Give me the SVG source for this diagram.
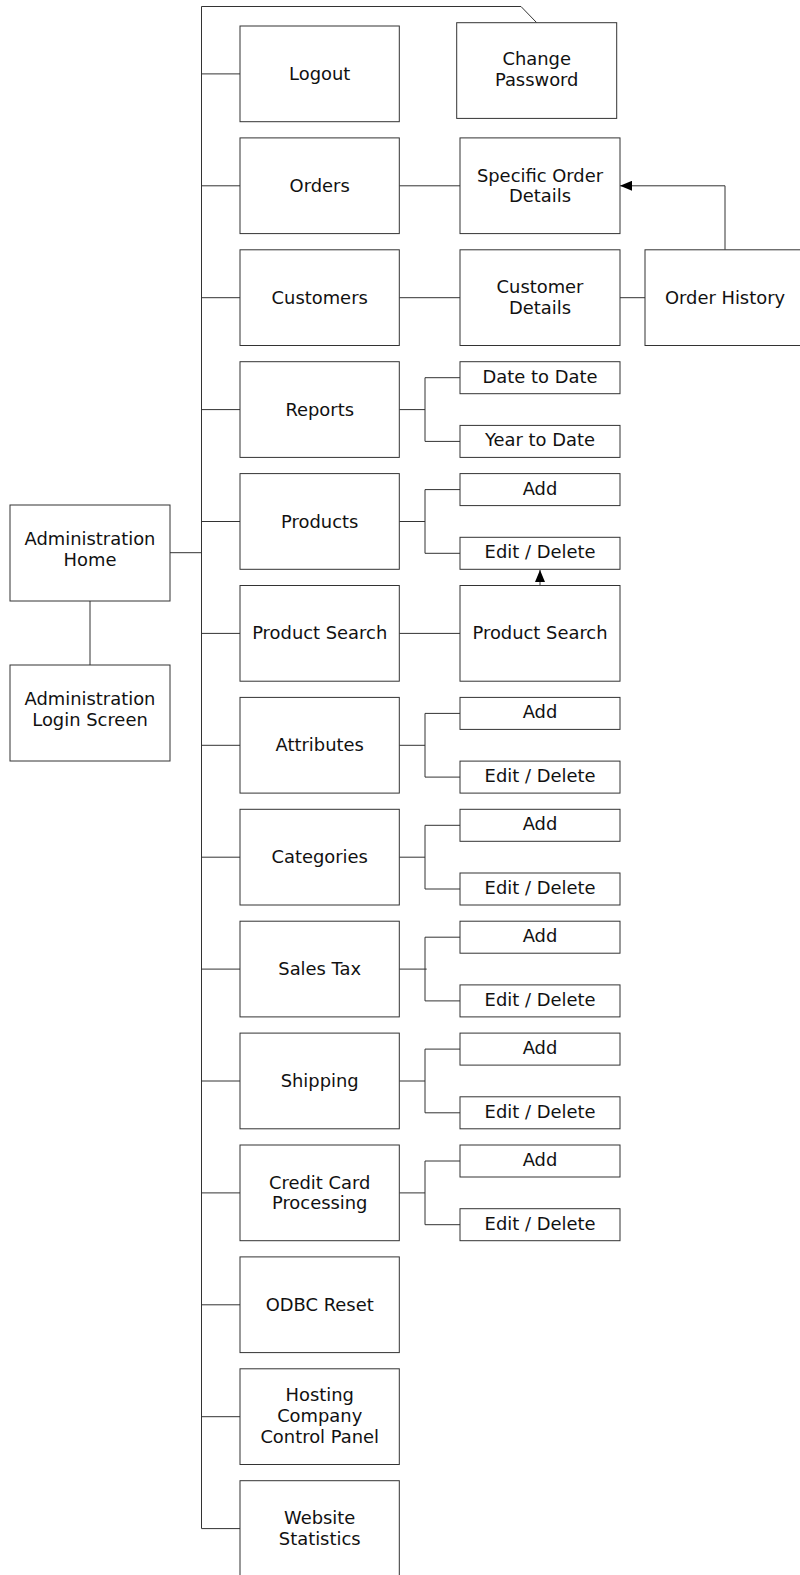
<svg xmlns="http://www.w3.org/2000/svg" width="800" height="1575" viewBox="0 0 800 1575">
<style>
.b{fill:#fff;stroke:#333;stroke-width:1}
.c{fill:none;stroke:#333;stroke-width:1}
text{font-family:"DejaVu Sans","Verdana",sans-serif;font-size:17.9px;fill:#111;text-anchor:middle}
</style>
<defs>
<marker id="ah" markerWidth="12" markerHeight="10" refX="12" refY="5" orient="auto" markerUnits="userSpaceOnUse">
<path d="M0,0 L12,5 L0,10 Z" fill="#000"/>
</marker>
</defs>
<rect width="800" height="1575" fill="#fff"/>
<g id="connectors">
<path class="c" d="M201.5,1528.5 V6.5 H521 L536.7,22.7"/>
<path class="c" d="M170,552.7 H201.5 M90,601 V665"/>
<path class="c" d="M201.5,73.9 H240 M201.5,185.8 H240 M201.5,297.7 H240 M201.5,409.6 H240 M201.5,521.5 H240 M201.5,633.4 H240 M201.5,745.3 H240 M201.5,857.2 H240 M201.5,969.1 H240 M201.5,1081 H240 M201.5,1192.9 H240 M201.5,1304.8 H240 M201.5,1416.7 H240 M201.5,1528.6 H240"/>
<path class="c" d="M399.3,185.8 H460 M399.3,297.7 H460 M620,297.7 H645 M399.3,633.4 H460"/>
<path class="c" d="M725,249.8 V185.8 H620" marker-end="url(#ah)"/>
<path class="c" d="M540,585.5 V570" marker-end="url(#ah)"/>
<path class="c" d="M399.3,409.6 H425 M425,377.7 V441.4 M425,377.7 H460 M425,441.4 H460"/>
<path class="c" d="M399.3,521.5 H425 M425,489.6 V553.3 M425,489.6 H460 M425,553.3 H460"/>
<path class="c" d="M399.3,745.3 H425 M425,713.4 V777.1 M425,713.4 H460 M425,777.1 H460"/>
<path class="c" d="M399.3,857.2 H425 M425,825.3 V889 M425,825.3 H460 M425,889 H460"/>
<path class="c" d="M399.3,969.1 H426.7 M425,937.2 V1000.9 M425,937.2 H460 M425,1000.9 H460"/>
<path class="c" d="M399.3,1081 H425 M425,1049.1 V1112.8 M425,1049.1 H460 M425,1112.8 H460"/>
<path class="c" d="M399.3,1192.9 H425 M425,1161 V1224.7 M425,1161 H460 M425,1224.7 H460"/>
</g>
<g id="admin-home"><rect class="b" x="10" y="505" width="160" height="96"/><text x="90" y="545">Administration</text><text x="90" y="566">Home</text></g>
<g id="admin-login"><rect class="b" x="10" y="665" width="160" height="96"/><text x="90" y="705">Administration</text><text x="90" y="726">Login Screen</text></g>
<g id="logout"><rect class="b" x="240" y="26" width="159.3" height="95.7"/><text x="319.7" y="80">Logout</text></g>
<g id="change-password"><rect class="b" x="456.7" y="22.7" width="160" height="95.7"/><text x="536.7" y="65">Change</text><text x="536.7" y="86">Password</text></g>
<g id="orders"><rect class="b" x="240" y="137.9" width="159.3" height="95.7"/><text x="319.7" y="192">Orders</text></g>
<g id="specific-order"><rect class="b" x="460" y="137.9" width="160" height="95.7"/><text x="540" y="181.5">Specific Order</text><text x="540" y="202">Details</text></g>
<g id="customers"><rect class="b" x="240" y="249.8" width="159.3" height="95.7"/><text x="319.7" y="303.7">Customers</text></g>
<g id="customer-details"><rect class="b" x="460" y="249.8" width="160" height="95.7"/><text x="540" y="293.2">Customer</text><text x="540" y="313.8">Details</text></g>
<g id="order-history"><rect class="b" x="645" y="249.8" width="160" height="95.7"/><text x="725" y="303.7">Order History</text></g>
<g id="reports"><rect class="b" x="240" y="361.7" width="159.3" height="95.7"/><text x="319.7" y="415.6">Reports</text></g>
<g id="date-to-date"><rect class="b" x="460" y="361.7" width="160" height="32"/><text x="540" y="382.7">Date to Date</text></g>
<g id="year-to-date"><rect class="b" x="460" y="425.4" width="160" height="32"/><text x="540" y="446.4">Year to Date</text></g>
<g id="products"><rect class="b" x="240" y="473.6" width="159.3" height="95.7"/><text x="319.7" y="527.5">Products</text></g>
<g id="products-add"><rect class="b" x="460" y="473.6" width="160" height="32"/><text x="540" y="494.6">Add</text></g>
<g id="products-edit"><rect class="b" x="460" y="537.3" width="160" height="32"/><text x="540" y="558.3">Edit / Delete</text></g>
<g id="product-search"><rect class="b" x="240" y="585.5" width="159.3" height="95.7"/><text x="319.7" y="639.4">Product Search</text></g>
<g id="product-search-2"><rect class="b" x="460" y="585.5" width="160" height="95.7"/><text x="540" y="639.4">Product Search</text></g>
<g id="attributes"><rect class="b" x="240" y="697.4" width="159.3" height="95.7"/><text x="319.7" y="751.3">Attributes</text></g>
<g id="attributes-add"><rect class="b" x="460" y="697.4" width="160" height="32"/><text x="540" y="718.4">Add</text></g>
<g id="attributes-edit"><rect class="b" x="460" y="761.1" width="160" height="32"/><text x="540" y="782.1">Edit / Delete</text></g>
<g id="categories"><rect class="b" x="240" y="809.3" width="159.3" height="95.7"/><text x="319.7" y="863.2">Categories</text></g>
<g id="categories-add"><rect class="b" x="460" y="809.3" width="160" height="32"/><text x="540" y="830.3">Add</text></g>
<g id="categories-edit"><rect class="b" x="460" y="873" width="160" height="32"/><text x="540" y="894">Edit / Delete</text></g>
<g id="sales-tax"><rect class="b" x="240" y="921.2" width="159.3" height="95.7"/><text x="319.7" y="975.1">Sales Tax</text></g>
<g id="sales-tax-add"><rect class="b" x="460" y="921.2" width="160" height="32"/><text x="540" y="942.2">Add</text></g>
<g id="sales-tax-edit"><rect class="b" x="460" y="984.9" width="160" height="32"/><text x="540" y="1005.9">Edit / Delete</text></g>
<g id="shipping"><rect class="b" x="240" y="1033.1" width="159.3" height="95.7"/><text x="319.7" y="1087">Shipping</text></g>
<g id="shipping-add"><rect class="b" x="460" y="1033.1" width="160" height="32"/><text x="540" y="1054.1">Add</text></g>
<g id="shipping-edit"><rect class="b" x="460" y="1096.8" width="160" height="32"/><text x="540" y="1117.8">Edit / Delete</text></g>
<g id="credit-card"><rect class="b" x="240" y="1145" width="159.3" height="95.7"/><text x="319.7" y="1188.6">Credit Card</text><text x="319.7" y="1209.2">Processing</text></g>
<g id="credit-card-add"><rect class="b" x="460" y="1145" width="160" height="32"/><text x="540" y="1166">Add</text></g>
<g id="credit-card-edit"><rect class="b" x="460" y="1208.7" width="160" height="32"/><text x="540" y="1229.7">Edit / Delete</text></g>
<g id="odbc-reset"><rect class="b" x="240" y="1256.9" width="159.3" height="95.7"/><text x="319.7" y="1310.8">ODBC Reset</text></g>
<g id="hosting"><rect class="b" x="240" y="1368.8" width="159.3" height="95.7"/><text x="319.7" y="1401.4">Hosting</text><text x="319.7" y="1422.2">Company</text><text x="319.7" y="1443">Control Panel</text></g>
<g id="website-stats"><rect class="b" x="240" y="1480.7" width="159.3" height="95.7"/><text x="319.7" y="1524.3">Website</text><text x="319.7" y="1544.9">Statistics</text></g>
</svg>
